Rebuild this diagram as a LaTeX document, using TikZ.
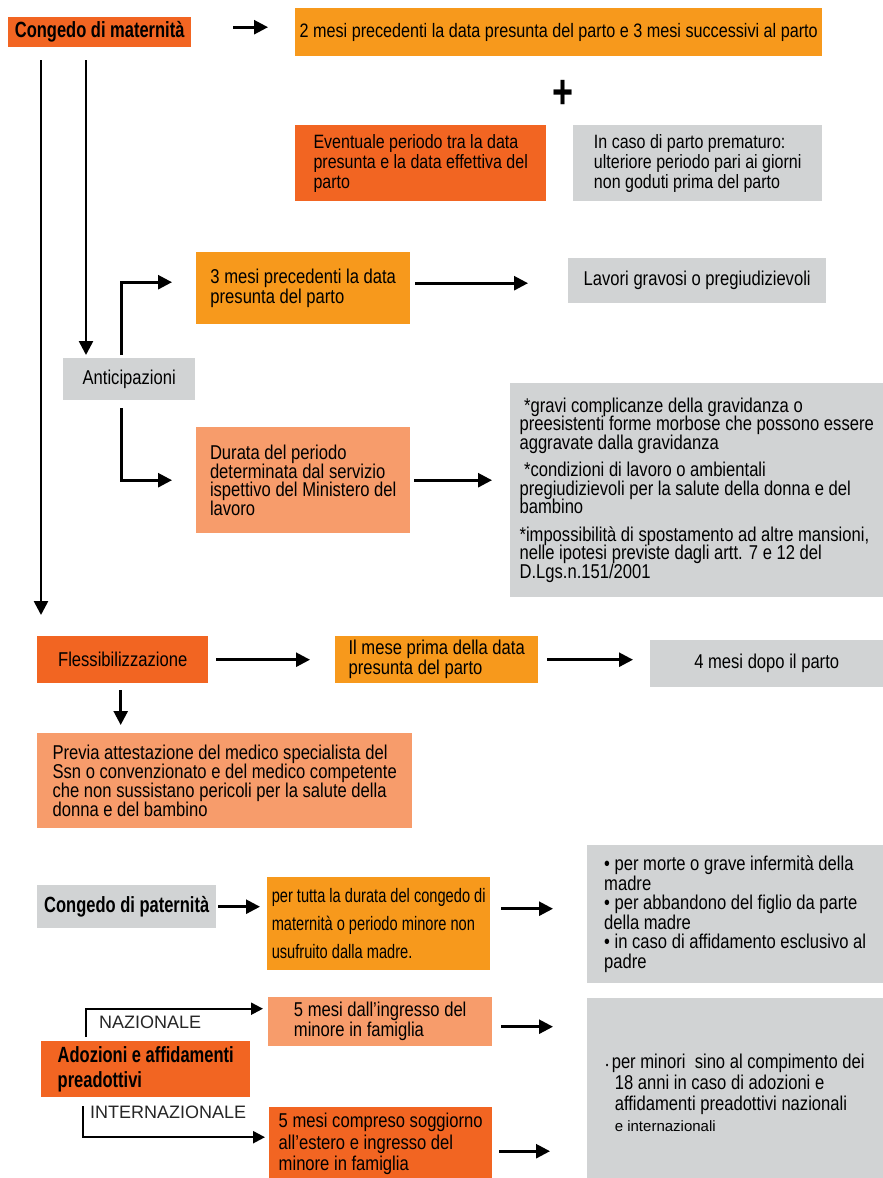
\documentclass[tikz,border=0pt]{standalone}
\usepackage{fontspec}
\setmainfont{Liberation Sans}[FakeStretch=0.83]
\newfontfamily\condfont{Liberation Sans}[FakeStretch=0.75]
\newfontfamily\plainfont{Liberation Sans}
\usetikzlibrary{arrows.meta}

\definecolor{arancio}{HTML}{F7991C}
\definecolor{rosso}{HTML}{F26522}
\definecolor{salmone}{HTML}{F79C6B}
\definecolor{grigio}{HTML}{D1D3D4}

\lineskiplimit=-100pt
\newcommand\fa{\fontsize{19.3}{20}\selectfont}
\newcommand\fb{\fontsize{20}{18.5}\selectfont}
\newcommand\fbold{\condfont\bfseries\fontsize{22}{25}\selectfont}
\newcommand\fc{\condfont\fontsize{19.5}{28}\selectfont}
\newcommand\fsmall{\plainfont\fontsize{18}{18}\selectfont}

\tikzset{
  box/.style={anchor=north west, inner sep=0pt, align=left, font=\fb},
  arr/.style={-{Triangle[length=14pt,width=14pt]}, line width=2.6pt},
  thinarr/.style={-{Triangle[length=12pt,width=12pt]}, line width=2.2pt},
}

\begin{document}
\begin{tikzpicture}[x=1pt,y=-1pt]
  \useasboundingbox (0,0) rectangle (883,1178);

  % congedo di maternita
  \node[box, fill=rosso, minimum width=183pt, minimum height=30pt, font=\fbold] (mat) at (8,17) {Congedo di maternità};
  \node[box, fill=arancio, minimum width=527pt, minimum height=48pt, font=\fontsize{19.5}{20}\selectfont] (top) at (295,8)
    {2 mesi precedenti la data presunta del parto e 3 mesi successivi al parto};
  \node[inner sep=0pt, font=\condfont\bfseries\fontsize{48}{48}\selectfont] (piu) at (563,94) {+};
  \node[box, fill=rosso, minimum width=251pt, minimum height=76pt, font=\fa] (eve) at (295,125)
    {Eventuale periodo tra la data\\presunta e la data effettiva del\\parto};
  \node[box, fill=grigio, minimum width=249pt, minimum height=76pt, font=\fa] (caso) at (573,125)
    {In caso di parto prematuro:\\ulteriore periodo pari ai giorni\\non goduti prima del parto};

  % anticipazioni
  \node[box, fill=grigio, minimum width=132pt, minimum height=42pt] (anti) at (63,358) {Anticipazioni};
  \node[box, fill=arancio, minimum width=214pt, minimum height=72pt, font=\fontsize{20}{20}\selectfont] (tre) at (196,252)
    {3 mesi precedenti la data\\presunta del parto};
  \node[box, fill=grigio, minimum width=258pt, minimum height=45pt] (lav) at (568,258) {Lavori gravosi o pregiudizievoli};
  \node[box, fill=salmone, minimum width=214pt, minimum height=106pt] (dur) at (196,427)
    {Durata del periodo\\determinata dal servizio\\ispettivo del Ministero del\\lavoro};
  \node[box, fill=grigio, minimum width=373pt, minimum height=214pt] (gravi) at (510,383)
    {\ *gravi complicanze della gravidanza o\\preesistenti forme morbose che possono essere\\aggravate dalla gravidanza\\[9pt]
     \ *condizioni di lavoro o ambientali\\pregiudizievoli per la salute della donna e del\\bambino\\[9pt]
     *impossibilità di spostamento ad altre mansioni,\\nelle ipotesi previste dagli artt. 7 e 12 del\\D.Lgs.n.151/2001};

  % flessibilizzazione
  \node[box, fill=rosso, minimum width=171pt, minimum height=47pt] (flex) at (37,636) {Flessibilizzazione};
  \node[box, fill=arancio, minimum width=203pt, minimum height=47pt, font=\fontsize{20}{20}\selectfont] (mese) at (335,636)
    {Il mese prima della data\\presunta del parto};
  \node[box, fill=grigio, minimum width=233pt, minimum height=47pt] (dopo) at (650,640) {4 mesi dopo il parto};
  \node[box, fill=salmone, minimum width=375pt, minimum height=95pt, font=\fontsize{20}{19}\selectfont] (prev) at (37,733)
    {Previa attestazione del medico specialista del\\Ssn o convenzionato e del medico competente\\che non sussistano pericoli per la salute della\\donna e del bambino};

  % congedo di paternita
  \node[box, fill=grigio, minimum width=179pt, minimum height=43pt, font=\fbold] (pat) at (37,885) {Congedo di paternità};
  \node[box, fill=arancio, minimum width=223pt, minimum height=93pt, font=\fc] (tutta) at (267,877)
    {per tutta la durata del congedo di\\maternità o periodo minore non\\usufruito dalla madre.};
  \node[box, fill=grigio, minimum width=296pt, minimum height=138pt, font=\fontsize{20}{19.5}\selectfont] (casi) at (587,845)
    {• per morte o grave infermità della\\madre\\• per abbandono del figlio da parte\\della madre\\• in caso di affidamento esclusivo al\\padre};

  % adozioni
  \node[box, fill=rosso, minimum width=209pt, minimum height=56pt, font=\fbold] (ado) at (41,1041)
    {Adozioni e affidamenti\\preadottivi};
  \node[box, fill=salmone, minimum width=224pt, minimum height=49pt, font=\fontsize{20}{20}\selectfont] (naz5) at (268,997)
    {5 mesi dall’ingresso del\\minore in famiglia};
  \node[box, fill=rosso, minimum width=223pt, minimum height=74pt, font=\fontsize{20}{21.5}\selectfont] (int5) at (269,1107)
    {5 mesi compreso soggiorno\\all’estero e ingresso del\\minore in famiglia};
  \node[box, fill=grigio, minimum width=296pt, minimum height=190pt, font=\fontsize{20}{21}\selectfont] (minori) at (587,998)
    {{\fontsize{9}{9}\selectfont•}\,per minori\ \ sino al compimento dei\\
     \hspace*{9pt}18 anni in caso di adozioni e\\
     \hspace*{9pt}affidamenti preadottivi nazionali\\
     \hspace*{9pt}{\plainfont\fontsize{15}{15}\selectfont e internazionali}};
  \node[anchor=west, inner sep=0pt, font=\fsmall, text=black!85] (naz) at (99,1022) {NAZIONALE};
  \node[anchor=west, inner sep=0pt, font=\fsmall, text=black!85] (int) at (90,1112) {INTERNAZIONALE};

  % connettori
  \coordinate (l1) at ([xshift=33pt]mat.south west);
  \coordinate (l2) at ([xshift=78pt]mat.south west);
  \draw[arr, shorten <=42pt, shorten >=27pt] ([yshift=5pt]mat.east) -- ([yshift=5pt]mat.east -| top.west);
  \draw[arr, shorten <=13pt, shorten >=21pt] (l1) -- (l1 |- flex.north);
  \draw[arr, shorten <=13pt, shorten >=3pt] (l2) -- (l2 |- anti.north);
  \draw[arr, shorten <=3pt, shorten >=24pt] ([xshift=-8pt]anti.north) |- ([yshift=6pt]tre.west);
  \draw[arr, shorten <=8pt, shorten >=24pt] ([xshift=-8pt]anti.south) |- (dur.west);
  \draw[arr, shorten <=5pt, shorten >=40pt] ([yshift=5pt]tre.east) -- ([yshift=5pt]tre.east -| lav.west);
  \draw[arr, shorten <=4pt, shorten >=18pt] (dur.east) -- (dur.east -| gravi.west);
  \draw[arr, shorten <=8pt, shorten >=25pt] (flex.east) -- (mese.west);
  \draw[arr, shorten <=9pt, shorten >=17pt] (mese.east) -- (mese.east -| dopo.west);
  \draw[arr, shorten <=7pt, shorten >=8pt] ([xshift=-2pt]flex.south) -- ([xshift=-2pt]flex.south |- prev.north);
  \draw[arr, shorten <=2pt, shorten >=7pt] (pat.east) -- (pat.east -| tutta.west);
  \draw[arr, shorten <=11pt, shorten >=34pt] ([yshift=15pt]tutta.east) -- ([yshift=15pt]tutta.east -| casi.west);
  \draw[thinarr, shorten <=4pt, shorten >=5pt] ([xshift=45pt]ado.north west) |- ([yshift=13pt]naz5.west);
  \draw[thinarr, shorten <=9pt, shorten >=4pt] ([xshift=42pt]ado.south west) |- ([yshift=7pt]int5.west);
  \draw[arr, shorten <=9pt, shorten >=34pt] ([yshift=-5pt]naz5.east) -- ([yshift=-5pt]naz5.east -| minori.west);
  \draw[arr, shorten <=7pt, shorten >=37pt] ([yshift=-7pt]int5.east) -- ([yshift=-7pt]int5.east -| minori.west);
\end{tikzpicture}
\end{document}
